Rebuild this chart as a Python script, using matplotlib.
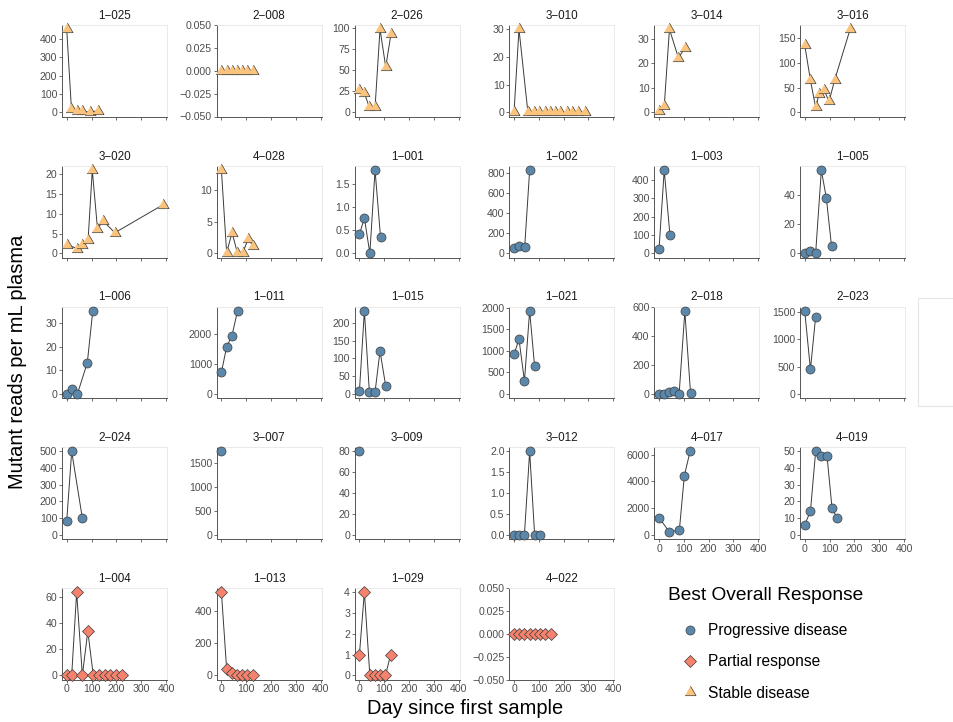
import matplotlib
matplotlib.use("Agg")
import matplotlib.pyplot as plt
from matplotlib.lines import Line2D
from matplotlib.patches import Rectangle

plt.rcParams['font.family'] = ['Liberation Sans', 'DejaVu Sans']

# ---------------- data ----------------
patients = ["1−025", "2−008", "2−026", "3−010", "3−014", "3−016",
            "3−020", "4−028", "1−001", "1−002", "1−003", "1−005",
            "1−006", "1−011", "1−015", "1−021", "2−018", "2−023",
            "2−024", "3−007", "3−009", "3−012", "4−017", "4−019",
            "1−004", "1−013", "1−029", "4−022"]

responses = ["Stable disease"] * 8 + ["Progressive disease"] * 16 + ["Partial response"] * 4

days = [
    [0, 19, 40, 63, 94, 128],
    [0, 21, 42, 63, 84, 105, 126],
    [0, 20, 40, 63, 83, 106, 127],
    [0, 20, 56, 79, 101, 124, 144, 164, 187, 214, 235, 258, 286],
    [0, 21, 42, 78, 104],
    [0, 23, 44, 58, 78, 98, 121, 183],
    [0, 43, 63, 86, 103, 124, 146, 194, 386],
    [0, 21, 43, 64, 86, 107, 129],
    [0, 20, 42, 63, 85],
    [0, 20, 43, 63],
    [0, 21, 44],
    [0, 23, 44, 67, 87, 108],
    [0, 20, 43, 83, 105],
    [0, 21, 42, 65],
    [0, 20, 40, 63, 83, 106],
    [0, 20, 42, 63, 83],
    [0, 21, 41, 61, 81, 104, 127],
    [0, 23, 44],
    [0, 20, 63],
    [0],
    [0],
    [0, 20, 42, 63, 83, 106],
    [0, 42, 82, 102, 125],
    [0, 23, 44, 67, 90, 110, 130],
    [0, 20, 40, 63, 85, 107, 130, 153, 176, 199, 222],
    [0, 21, 42, 63, 84, 105, 126],
    [0, 20, 42, 63, 84, 105, 126],
    [0, 21, 42, 63, 84, 105, 126, 147],
]

reads = [
    [455, 18, 5, 5, 3, 8],
    [0, 0, 0, 0, 0, 0, 0],
    [27, 23, 6, 6, 99, 54, 93],
    [0, 30, 0, 0, 0, 0, 0, 0, 0, 0, 0, 0, 0],
    [0.4, 2.4, 34, 22.3, 26.2],
    [136, 65, 10, 37, 45, 22, 66, 168],
    [2.2, 1.2, 2.2, 3.3, 21, 6.2, 8.2, 5.2, 12.2],
    [13.2, 0.1, 3.3, 0.1, 0.1, 2.2, 1.2],
    [0.41, 0.77, 0, 1.81, 0.36],
    [50, 73, 66, 826],
    [22, 455, 100],
    [0, 1.6, 0, 57, 38, 5],
    [0, 2.1, 0, 13.2, 35],
    [726, 1587, 1944, 2793],
    [8, 234, 6, 6, 121, 22],
    [915, 1269, 300, 1923, 638],
    [0, 0, 16, 23, 0, 568, 7],
    [1524, 451, 1415],
    [81, 498, 99],
    [1751],
    [80],
    [0, 0, 0, 2, 0, 0],
    [1275, 200, 350, 4425, 6250],
    [6, 14, 50, 47, 47, 16, 10],
    [0, 0, 64, 0, 34, 0, 0, 0, 0, 0, 0],
    [520, 40, 15, 5, 5, 0, 0],
    [1, 4, 0, 0, 0, 0, 1],
    [0, 0, 0, 0, 0, 0, 0, 0],
]

y_ticks = [
    [0, 100, 200, 300, 400],
    [-0.05, -0.025, 0, 0.025, 0.05],
    [0, 25, 50, 75, 100],
    [0, 10, 20, 30],
    [0, 10, 20, 30],
    [0, 50, 100, 150],
    [0, 5, 10, 15, 20],
    [0, 5, 10],
    [0.0, 0.5, 1.0, 1.5],
    [0, 200, 400, 600, 800],
    [0, 100, 200, 300, 400],
    [0, 20, 40],
    [0, 10, 20, 30],
    [0, 1000, 2000],
    [0, 50, 100, 150, 200],
    [0, 500, 1000, 1500, 2000],
    [0, 200, 400, 600],
    [0, 500, 1000, 1500],
    [0, 100, 200, 300, 400, 500],
    [0, 500, 1000, 1500],
    [0, 20, 40, 60, 80],
    [0.0, 0.5, 1.0, 1.5, 2.0],
    [0, 2000, 4000, 6000],
    [0, 10, 20, 30, 40, 50],
    [0, 20, 40, 60],
    [0, 200, 400],
    [0, 1, 2, 3, 4],
    [-0.05, -0.025, 0, 0.025, 0.05],
]

x_ticks = [0, 100, 200, 300, 400]
x_range = [-19, 404]

response_labels = ["Progressive disease", "Partial response", "Stable disease"]
response_colors = ["#5B87AA", "#F4826C", "#FBC47E"]
tri = [(-1.0, -0.577), (1.0, -0.577), (0.0, 1.155)]
response_markers = ["o", "D", tri]
response_sizes = [6.5, 5.9, 9.2]

# ---------------- layout ----------------
W, H = 954, 722
col_left = [62, 216.7, 354.7, 509.3, 654.3, 800]
row_top = [25, 166, 306.7, 447.3, 588]
pw, ph = 105, 91.5
ncol = 6

fig = plt.figure(figsize=(W / 100, H / 100), dpi=100)
fig.patch.set_facecolor("white")


def fmt_ticks(ticks):
    dec = 0
    for d in range(6):
        if all(abs(round(t, d) - t) < 1e-9 for t in ticks):
            dec = d
            break
    return [f"{t:.{dec}f}".replace("-", "−") for t in ticks]


style = {lab: (c, m, s) for lab, c, m, s in
         zip(response_labels, response_colors, response_markers, response_sizes)}

n = len(patients)
for i in range(n):
    r, c = divmod(i, ncol)
    left = col_left[c] / W
    bottom = 1 - (row_top[r] + ph) / H
    ax = fig.add_axes([left, bottom, pw / W, ph / H])
    color, marker, ms = style[responses[i]]
    ax.plot(days[i], reads[i], color="#3a3a3a", lw=0.7, zorder=2)
    ax.plot(days[i], reads[i], ls="none", marker=marker, ms=ms,
            mfc=color, mec="#3d3d3d", mew=0.5, zorder=3, clip_on=False)
    lo = min(0, min(reads[i]))
    hi = max(reads[i])
    if hi == lo:
        ax.set_ylim(-0.05, 0.05)
    else:
        pad = 0.05 * (hi - lo)
        ax.set_ylim(lo - pad, hi + pad)
    ax.set_xlim(*x_range)
    ax.set_xticks(x_ticks)
    ax.set_yticks(y_ticks[i])
    ax.set_yticklabels(fmt_ticks(y_ticks[i]))
    if i + ncol < n:
        ax.set_xticklabels([])
    else:
        ax.set_xticklabels([str(t) for t in x_ticks])
    ax.tick_params(axis="both", labelsize=7.6, colors="#555555", labelcolor="#4d4d4d",
                   length=2.2, width=0.6, pad=1.2)
    for s in ["top", "right"]:
        ax.spines[s].set_color("#e6e6e6")
        ax.spines[s].set_linewidth(0.6)
    for s in ["left", "bottom"]:
        ax.spines[s].set_color("#555555")
        ax.spines[s].set_linewidth(0.7)
    ax.set_title(patients[i], fontsize=8.4, pad=4.5, color="#1a1a1a")

# axis labels
fig.text(465 / W, 1 - 708 / H, "Day since first sample", ha="center", va="center", fontsize=14.4)
fig.text(18 / W, 1 - 362 / H, "Mutant reads per mL plasma", ha="center", va="center",
         rotation=90, fontsize=14.4)

# legend
fig.text(668 / W, 1 - 596 / H, "Best Overall Response", ha="left", va="center", fontsize=13.8)
handles = [Line2D([], [], ls="none", marker=m, ms=s, mfc=c, mec="#3d3d3d", mew=0.5)
           for c, m, s in zip(response_colors, response_markers, response_sizes)]
fig.legend(handles, response_labels, loc="upper left",
           bbox_to_anchor=(680.8 / W, 1 - 623 / H), frameon=False, fontsize=11.2,
           borderpad=0, handlelength=1.2, handletextpad=0.55, labelspacing=1.05,
           numpoints=1, borderaxespad=0)

# partially visible empty box at right edge
fig.patches.append(Rectangle((918 / W, 1 - 406 / H), 60 / W, 108 / H,
                             transform=fig.transFigure, facecolor="white",
                             edgecolor="#e6e6e6", lw=0.8))

fig.savefig("out.png", dpi=100)
